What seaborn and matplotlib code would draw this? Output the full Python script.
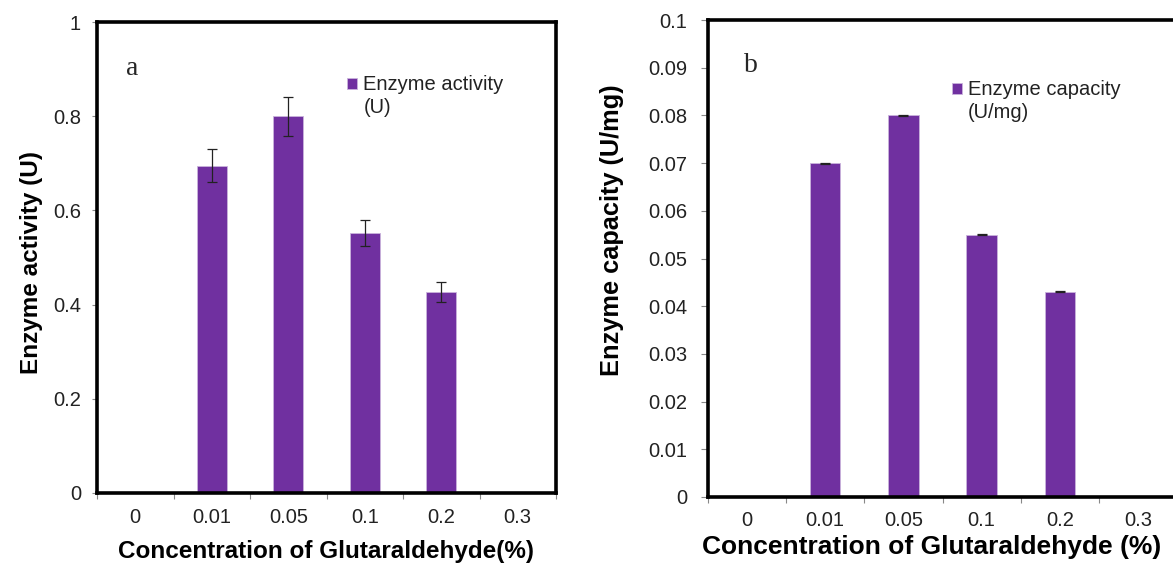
import matplotlib
matplotlib.use("Agg")
import matplotlib.pyplot as plt
import seaborn as sns
import numpy as np
import pandas as pd
from matplotlib.ticker import FixedLocator

# data
concentrations = ['0', '0.01', '0.05', '0.1', '0.2', '0.3']
activity = [0.0, 0.695, 0.80, 0.552, 0.427, 0.0]
activity_err = [0.0, 0.035, 0.041, 0.028, 0.022, 0.0]
capacity = [0.0, 0.070, 0.080, 0.055, 0.043, 0.0]
capacity_err = [0.0, 0.0001, 0.0001, 0.0001, 0.0001, 0.0]

sns.set_theme(style="white")
plt.rcParams['font.family'] = ['Liberation Sans', 'DejaVu Sans']

purple = '#7030A0'

df = pd.DataFrame({'conc': concentrations, 'activity': activity, 'capacity': capacity})

fig = plt.figure(figsize=(11.73, 5.64), dpi=100)
ax_a = fig.add_axes([97 / 1173, 71 / 564, 459 / 1173, 471 / 564])
ax_b = fig.add_axes([708 / 1173, 67 / 564, 469 / 1173, 477 / 564])


def style_panel(ax, col, err, ymax, step, ylabel, letter, letter_xy, leg_text, leg_xy,
                ylab_xy, xlab_xy, xlabel, ypad, xpad, ylen, labsize):
    sns.barplot(data=df, x='conc', y=col, order=concentrations, color=purple,
                width=0.39, edgecolor='#c9b3dc', linewidth=0.6, saturation=1,
                label=leg_text, ax=ax)
    ax.errorbar(np.arange(len(concentrations)), df[col], yerr=err, fmt='none',
                ecolor='#222222', elinewidth=0.9, capsize=3.5, capthick=0.9)
    ax.set_ylim(0, ymax)
    ax.set_xlim(-0.5, len(concentrations) - 0.5)
    ax.set_yticks(np.round(np.arange(0, ymax + step / 2, step), 3))
    ax.yaxis.set_major_formatter(matplotlib.ticker.FuncFormatter(lambda v, p: f'{v:g}'))
    ax.xaxis.set_minor_locator(FixedLocator(np.arange(-0.5, len(concentrations), 1.0)))
    ax.tick_params(axis='x', which='major', length=0, pad=xpad, labelsize=14.5, colors='#222222')
    ax.tick_params(axis='x', which='minor', length=4, width=0.8, color='#888888', bottom=True)
    ax.tick_params(axis='y', which='major', length=ylen, width=0.8, color='#888888', left=True,
                   pad=ypad, labelsize=14.5, labelcolor='#222222')
    for s in ax.spines.values():
        s.set_linewidth(2.6)
        s.set_color('black')
    ax.set_xlabel(xlabel, fontsize=labsize[0], fontweight='bold', color='black')
    ax.set_ylabel(ylabel, fontsize=labsize[1], fontweight='bold', color='black')
    ax.xaxis.set_label_coords(*xlab_xy)
    ax.yaxis.set_label_coords(*ylab_xy)
    ax.text(*letter_xy, letter, transform=ax.transAxes, fontsize=20,
            family='Liberation Serif', va='center', ha='left')
    leg = ax.legend(loc='upper left', bbox_to_anchor=leg_xy, frameon=False, fontsize=14.5,
                    handlelength=0.5, handleheight=0.5, handletextpad=0.3,
                    borderpad=0, borderaxespad=0)
    for t in leg.get_texts():
        t.set_color('#222222')
        t.set_linespacing(1.27)
    # square sits beside the first line of the label, as in the original
    for h in leg.legend_handles:
        h.set_y(h.get_y() + 9)


style_panel(ax_a, 'activity', activity_err, 1.0, 0.2, 'Enzyme activity (U)', 'a', (0.063, 0.902),
            'Enzyme activity\n(U)', (0.545, 0.888), (-0.118, 0.49), (0.50, -0.100),
            'Concentration of Glutaraldehyde(%)', 8, 11, 3.5, (17.5, 17.5))
style_panel(ax_b, 'capacity', capacity_err, 0.1, 0.01, 'Enzyme capacity (U/mg)', 'b', (0.077, 0.905),
            'Enzyme capacity\n(U/mg)', (0.520, 0.875), (-0.179, 0.56), (0.476, -0.080),
            'Concentration of Glutaraldehyde (%)', 10, 10, 5, (19, 18.3))

fig.savefig('out.png', dpi=100)
